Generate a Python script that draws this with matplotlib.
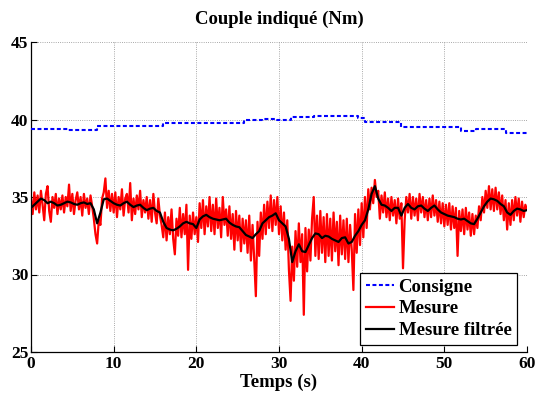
import numpy as np
import matplotlib
matplotlib.use("Agg")
import matplotlib.pyplot as plt

# ---------------- data ----------------
# Consigne: piecewise-constant set point (time of step, value)
consigne_t = [0.0, 4.5, 8.0, 16.0, 25.8, 28.0, 29.8, 31.4, 34.2, 36.3, 39.6, 40.4, 44.7, 52.0, 53.8, 57.4, 60.0]
consigne_v = [39.40, 39.33, 39.60, 39.76, 39.95, 40.02, 39.98, 40.15, 40.25, 40.20, 40.10, 39.85, 39.52, 39.28, 39.37, 39.10, 39.10]

# Mesure (raw), sampled every 0.2 s from 0 to 60 s
mesure_dt = 0.2
mesure_v = [
    34.9, 33.9, 35.3, 34.2, 35.1, 34.0, 35.4, 34.5, 33.5, 35.2,
    35.7, 34.1, 33.4, 35.0, 34.3, 35.2, 33.9, 34.9, 34.2, 35.1,
    34.0, 35.0, 34.4, 35.8, 34.1, 35.2, 33.9, 34.8, 35.3, 34.2,
    35.0, 33.8, 35.2, 34.3, 34.9, 33.9, 35.1, 34.4, 33.6, 32.6,
    32.0, 33.5, 33.2, 34.9, 35.3, 36.2, 34.3, 35.4, 34.1, 35.2,
    34.0, 35.3, 33.7, 35.0, 34.2, 35.5, 33.8, 34.9, 35.2, 34.0,
    35.9, 33.5, 34.9, 33.9, 35.1, 34.2, 35.4, 33.7, 34.8, 34.0,
    35.0, 33.6, 34.8, 33.4, 35.2, 34.0, 33.3, 34.9, 33.8, 33.2,
    32.4, 34.0, 32.2, 33.7, 32.6, 34.2, 32.3, 31.3, 33.6, 32.5,
    34.3, 32.4, 33.9, 32.6, 34.5, 30.3, 33.8, 32.3, 34.0, 32.6,
    33.7, 32.1, 34.6, 33.0, 34.8, 32.6, 34.4, 33.1, 35.0, 32.8,
    34.5, 32.6, 34.9, 33.0, 34.3, 32.4, 35.0, 33.2, 34.2, 32.5,
    34.4, 32.3, 33.9, 31.6, 34.1, 32.2, 33.8, 31.5, 33.6, 32.0,
    33.5, 31.4, 33.8, 30.9, 33.2, 31.0, 28.6, 33.4, 31.2, 34.0,
    32.3, 34.5, 32.6, 34.7, 33.0, 35.1, 32.8, 34.8, 33.2, 35.0,
    32.6, 34.4, 32.2, 34.0, 31.6, 33.5, 30.3, 28.3, 31.8, 29.6,
    32.8, 30.5, 33.3, 30.8, 32.6, 27.4, 33.0, 30.2, 32.9, 30.9,
    33.6, 35.0, 31.2, 33.8, 31.0, 34.1, 31.4, 33.7, 30.8, 33.9,
    31.2, 33.6, 30.9, 34.0, 31.5, 33.4, 30.6, 33.8, 31.3, 33.5,
    31.0, 33.6, 30.8, 33.2, 31.6, 29.0, 33.9, 31.4, 34.2, 31.9,
    34.6, 32.4, 35.0, 33.0, 35.5, 34.2, 35.6, 34.6, 36.1, 35.0,
    35.4, 33.6, 35.1, 34.0, 35.3, 33.7, 34.9, 33.5, 35.0, 33.8,
    34.8, 33.3, 34.9, 33.6, 34.6, 30.4, 33.5, 35.0, 34.0, 35.2,
    33.6, 35.0, 33.8, 34.9, 33.5, 35.2, 34.0, 35.0, 33.7, 34.8,
    33.5, 34.9, 33.7, 35.1, 33.8, 34.8, 33.4, 34.7, 33.3, 34.6,
    33.1, 34.5, 33.2, 34.6, 32.9, 34.4, 33.0, 34.3, 31.2, 34.1,
    32.8, 34.2, 32.6, 34.3, 32.9, 34.0, 32.5, 33.9, 32.6, 33.8,
    33.0, 34.4, 33.5, 35.0, 34.0, 35.4, 34.3, 35.7, 34.2, 35.5,
    34.1, 35.6, 34.2, 35.3, 33.9, 35.1, 33.5, 34.8, 32.9, 34.6,
    33.2, 34.8, 33.5, 35.0, 33.8, 34.9, 33.4, 34.7, 33.7, 34.5,
    34.2,
]

# Mesure filtrée, sampled every 0.4 s from 0 to 60 s
filtre_dt = 0.4
filtre_v = [
    34.30, 34.50, 34.70, 34.90, 34.80, 34.60, 34.70, 34.60, 34.45, 34.50,
    34.60, 34.70, 34.65, 34.55, 34.50, 34.60, 34.65, 34.55, 34.60, 34.20,
    33.30, 34.00, 34.85, 34.90, 34.75, 34.60, 34.50, 34.45, 34.60, 34.70,
    34.50, 34.35, 34.45, 34.50, 34.30, 34.15, 34.25, 34.30, 34.10, 34.00,
    33.40, 33.00, 32.90, 32.85, 32.95, 33.10, 33.30, 33.40, 33.30, 33.25,
    33.00, 33.55, 33.75, 33.85, 33.70, 33.60, 33.55, 33.50, 33.55, 33.60,
    33.35, 33.20, 33.10, 33.05, 32.80, 32.55, 32.45, 32.35, 32.60, 32.80,
    33.30, 33.50, 33.70, 33.80, 33.95, 33.50, 33.30, 33.10, 32.30, 30.80,
    31.50, 31.95, 31.50, 31.45, 31.90, 32.35, 32.65, 32.60, 32.35, 32.50,
    32.45, 32.30, 32.20, 32.10, 32.35, 32.40, 32.00, 32.10, 32.50, 32.80,
    33.20, 33.50, 34.20, 35.20, 35.70, 34.90, 34.50, 34.45, 34.30, 34.10,
    34.30, 34.30, 33.80, 34.30, 34.55, 34.30, 34.20, 34.40, 34.45, 34.25,
    34.10, 34.30, 34.45, 34.20, 34.00, 33.90, 33.80, 33.75, 33.70, 33.60,
    33.55, 33.60, 33.45, 33.30, 33.25, 33.60, 34.00, 34.40, 34.70, 34.90,
    34.85, 34.75, 34.55, 34.40, 34.00, 33.85, 34.10, 34.25, 34.20, 34.10,
    34.15,
]

x_ticks = [0, 10, 20, 30, 40, 50, 60]
y_ticks = [25, 30, 35, 40, 45]
labels = ["Consigne", "Mesure", "Mesure filtrée"]
title = "Couple indiqué (Nm)"
xlabel = "Temps (s)"

# ---------------- figure ----------------
plt.rcParams["font.family"] = ["Liberation Serif", "DejaVu Serif"]
plt.rcParams["font.weight"] = "bold"

fig = plt.figure(figsize=(5.37, 3.95), dpi=100)
ax = fig.add_axes([31 / 537, 43 / 395, 496 / 537, 310 / 395])

t_mes = np.arange(len(mesure_v)) * mesure_dt
t_fil = np.arange(len(filtre_v)) * filtre_dt

ax.plot(consigne_t, consigne_v, color="#0000ff", lw=1.5, drawstyle="steps-post",
        linestyle=(0, (1.9, 1.2)), label=labels[0], zorder=3)
ax.plot(t_mes, mesure_v, color="#ff0000", lw=1.6, label=labels[1], zorder=2)
ax.plot(t_fil, filtre_v, color="black", lw=1.6, label=labels[2], zorder=4)

ax.set_xlim(0, 60)
ax.set_ylim(25, 45)
ax.set_xticks(x_ticks)
ax.set_yticks(y_ticks)
ax.tick_params(direction="in", length=4, width=0.8, labelsize=12.5, pad=2)
ax.tick_params(axis="x", pad=3)
for lab in ax.get_xticklabels() + ax.get_yticklabels():
    lab.set_fontweight("bold")

ax.spines["top"].set_visible(False)
ax.spines["right"].set_visible(False)
ax.spines["left"].set_linewidth(0.9)
ax.spines["bottom"].set_linewidth(0.9)

ax.grid(True, linestyle=":", color="0.55", linewidth=0.6)
ax.set_axisbelow(True)

ax.set_title(title, fontsize=13.5, fontweight="bold", pad=13)
ax.set_xlabel(xlabel, fontsize=13.5, fontweight="bold", labelpad=1)

leg = ax.legend(loc="lower right", bbox_to_anchor=(0.98, 0.023), borderaxespad=0,
                prop={"size": 13.5, "weight": "bold"}, fancybox=False, framealpha=1,
                edgecolor="black", handlelength=1.5, handletextpad=0.25,
                labelspacing=0.25, borderpad=0.3)
leg.get_frame().set_linewidth(0.9)

fig.savefig("out.png", dpi=100)
